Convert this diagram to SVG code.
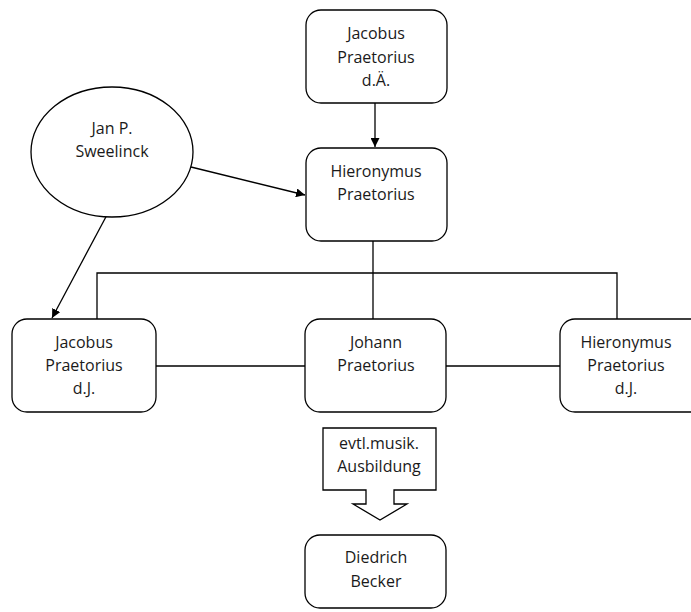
<svg xmlns="http://www.w3.org/2000/svg" width="691" height="612" viewBox="0 0 691 612">
  <defs>
    <style>
      .box { fill: #ffffff; stroke: #000000; stroke-width: 1.3; }
      .line { fill: none; stroke: #000000; stroke-width: 1.3; }
      .lbl { font-family: "Open Sans", "Noto Sans", sans-serif; font-size: 16px; fill: #1a1a1a; text-anchor: middle; }
    </style>
    <marker id="arrow" viewBox="0 0 10 10" refX="10" refY="5" markerWidth="9" markerHeight="9" markerUnits="userSpaceOnUse" orient="auto">
      <path d="M0,0 L10,5 L0,10 z" fill="#000000"/>
    </marker>
  </defs>
  <rect width="691" height="612" fill="#ffffff"/>

  <!-- connectors -->
  <g id="connectors">
    <line class="line" x1="375" y1="103" x2="375" y2="147" marker-end="url(#arrow)"/>
    <line class="line" x1="191" y1="167" x2="305" y2="195" marker-end="url(#arrow)"/>
    <line class="line" x1="108" y1="213" x2="52" y2="318" marker-end="url(#arrow)"/>
    <line class="line" x1="373" y1="241" x2="373" y2="319"/>
    <polyline class="line" points="97,319 97,273 617,273 617,319"/>
    <line class="line" x1="156" y1="366" x2="305" y2="366"/>
    <line class="line" x1="446" y1="366" x2="560" y2="366"/>
  </g>

  <g id="jacobus-da">
    <rect class="box" x="306" y="10" width="141" height="93" rx="15"/>
    <text class="lbl"><tspan x="376" y="39">Jacobus</tspan><tspan x="376" y="63">Praetorius</tspan><tspan x="376" y="86">d.Ä.</tspan></text>
  </g>

  <g id="sweelinck">
    <ellipse class="box" cx="112" cy="152" rx="81" ry="65"/>
    <text class="lbl"><tspan x="112" y="134">Jan P.</tspan><tspan x="112" y="157">Sweelinck</tspan></text>
  </g>

  <g id="hieronymus">
    <rect class="box" x="306" y="148" width="141" height="93" rx="15"/>
    <text class="lbl"><tspan x="376" y="177">Hieronymus</tspan><tspan x="376" y="200">Praetorius</tspan></text>
  </g>

  <g id="jacobus-dj">
    <rect class="box" x="12" y="319" width="144" height="93" rx="15"/>
    <text class="lbl"><tspan x="84" y="348">Jacobus</tspan><tspan x="84" y="371">Praetorius</tspan><tspan x="84" y="394">d.J.</tspan></text>
  </g>

  <g id="johann">
    <rect class="box" x="305" y="319" width="141" height="93" rx="15"/>
    <text class="lbl"><tspan x="376" y="348">Johann</tspan><tspan x="376" y="371">Praetorius</tspan></text>
  </g>

  <g id="hieronymus-dj">
    <rect class="box" x="560" y="319" width="146" height="93" rx="15"/>
    <text class="lbl"><tspan x="626" y="348">Hieronymus</tspan><tspan x="626" y="371">Praetorius</tspan><tspan x="626" y="394">d.J.</tspan></text>
  </g>

  <g id="ausbildung">
    <path class="box" d="M323,428 L436,428 L436,490 L394,490 L394,504 L407,504 L380,520 L353,504 L366,504 L366,490 L323,490 Z"/>
    <text class="lbl"><tspan x="379" y="449">evtl.musik.</tspan><tspan x="379" y="472">Ausbildung</tspan></text>
  </g>

  <g id="becker">
    <rect class="box" x="305" y="535" width="141" height="73" rx="15"/>
    <text class="lbl"><tspan x="376" y="563">Diedrich</tspan><tspan x="376" y="587">Becker</tspan></text>
  </g>
</svg>
